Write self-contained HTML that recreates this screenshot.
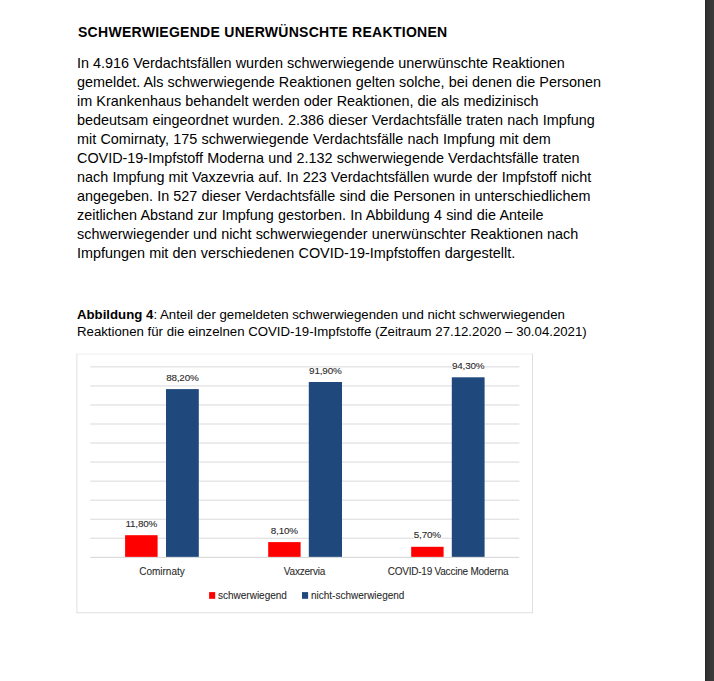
<!DOCTYPE html>
<html lang="de">
<head>
<meta charset="utf-8">
<title>Schwerwiegende unerwünschte Reaktionen</title>
<style>
html,body{margin:0;padding:0;background:#fff;}
body{width:714px;height:681px;position:relative;overflow:hidden;font-family:"Liberation Sans",sans-serif;color:#000;}
.abs{position:absolute;white-space:nowrap;}
.title{left:78px;top:24.55px;font-size:14px;line-height:15px;font-weight:bold;letter-spacing:0.28px;}
.p{left:77px;font-size:14.4px;line-height:19px;height:19px;}
.cap{left:77px;font-size:13.23px;line-height:17px;height:17px;}
.dl{position:absolute;font-size:9.9px;line-height:10px;letter-spacing:-0.16px;color:#2a2a2a;-webkit-text-stroke:0.1px #2a2a2a;white-space:nowrap;text-align:center;}
.cl{position:absolute;font-size:10px;line-height:12px;color:#2a2a2a;-webkit-text-stroke:0.08px #2a2a2a;white-space:nowrap;text-align:center;}
.side{position:absolute;left:705px;top:0;width:9px;height:681px;background:linear-gradient(to right,#262626 0,#262626 1px,#303030 1px,#3c3c3c 100%);}
svg{position:absolute;left:0;top:0;}
</style>
</head>
<body>
<div class="abs title">SCHWERWIEGENDE UNERWÜNSCHTE REAKTIONEN</div>

<div class="abs p" style="top:54px;word-spacing:0.1px">In 4.916 Verdachtsfällen wurden schwerwiegende unerwünschte Reaktionen</div>
<div class="abs p" style="top:73px;word-spacing:0.08px">gemeldet. Als schwerwiegende Reaktionen gelten solche, bei denen die Personen</div>
<div class="abs p" style="top:92px;word-spacing:0.1px">im Krankenhaus behandelt werden oder Reaktionen, die als medizinisch</div>
<div class="abs p" style="top:111px;word-spacing:0.21px">bedeutsam eingeordnet wurden. 2.386 dieser Verdachtsfälle traten nach Impfung</div>
<div class="abs p" style="top:130px;word-spacing:0.26px">mit Comirnaty, 175 schwerwiegende Verdachtsfälle nach Impfung mit dem</div>
<div class="abs p" style="top:149px;word-spacing:0.2px">COVID-19-Impfstoff Moderna und 2.132 schwerwiegende Verdachtsfälle traten</div>
<div class="abs p" style="top:168px;word-spacing:0.19px">nach Impfung mit Vaxzevria auf. In 223 Verdachtsfällen wurde der Impfstoff nicht</div>
<div class="abs p" style="top:187px;word-spacing:0.17px">angegeben. In 527 dieser Verdachtsfälle sind die Personen in unterschiedlichem</div>
<div class="abs p" style="top:206px;word-spacing:0.24px">zeitlichen Abstand zur Impfung gestorben. In Abbildung 4 sind die Anteile</div>
<div class="abs p" style="top:225px;word-spacing:0.08px">schwerwiegender und nicht schwerwiegender unerwünschter Reaktionen nach</div>
<div class="abs p" style="top:244px;word-spacing:0.18px">Impfungen mit den verschiedenen COVID-19-Impfstoffen dargestellt.</div>

<div class="abs cap" style="top:306px"><b>Abbildung 4</b>: Anteil der gemeldeten schwerwiegenden und nicht schwerwiegenden</div>
<div class="abs cap" style="top:323px">Reaktionen für die einzelnen COVID-19-Impfstoffe (Zeitraum 27.12.2020 – 30.04.2021)</div>

<svg width="714" height="681" viewBox="0 0 714 681">
<rect x="76.4" y="353.5" width="1" height="259.7" fill="#e0e0e0"/>
<rect x="532" y="353.5" width="1" height="259.7" fill="#dedede"/>
<rect x="76.4" y="353.5" width="456.6" height="1" fill="#f0f0f0"/>
<rect x="76.4" y="612.2" width="456.6" height="1" fill="#e0e0e0"/>
<rect x="90.3" y="366.38" width="429" height="1" fill="#d9d9d9"/>
<rect x="90.3" y="385.42" width="429" height="1" fill="#d9d9d9"/>
<rect x="90.3" y="404.46" width="429" height="1" fill="#d9d9d9"/>
<rect x="90.3" y="423.50" width="429" height="1" fill="#d9d9d9"/>
<rect x="90.3" y="442.54" width="429" height="1" fill="#d9d9d9"/>
<rect x="90.3" y="461.58" width="429" height="1" fill="#d9d9d9"/>
<rect x="90.3" y="480.62" width="429" height="1" fill="#d9d9d9"/>
<rect x="90.3" y="499.66" width="429" height="1" fill="#d9d9d9"/>
<rect x="90.3" y="518.70" width="429" height="1" fill="#d9d9d9"/>
<rect x="90.3" y="537.74" width="429" height="1" fill="#d9d9d9"/>
<rect x="90.3" y="556.85" width="429" height="1" fill="#d4d4d4"/>
<rect x="452" y="362" width="32.6" height="8" fill="#fff"/>
<rect x="413.8" y="531.4" width="27.4" height="8.2" fill="#fff"/>
<rect x="125.1" y="535.2" width="32.5" height="21.65" fill="#ff0000"/>
<rect x="166.0" y="389.1" width="32.8" height="167.75" fill="#1f497d"/>
<rect x="268.2" y="542.1" width="32.4" height="14.75" fill="#ff0000"/>
<rect x="308.8" y="382.0" width="33.2" height="174.85" fill="#1f497d"/>
<rect x="411.2" y="546.8" width="32.4" height="10.05" fill="#ff0000"/>
<rect x="451.8" y="377.3" width="32.8" height="179.55" fill="#1f497d"/>
<rect x="209.1" y="592.1" width="6.1" height="6.7" fill="#ff0000"/>
<rect x="302" y="592.1" width="6.1" height="6.7" fill="#1f497d"/>
</svg>
<div class="dl" style="left:120.1px;width:42.5px;top:518.50px">11,80%</div>
<div class="dl" style="left:161.0px;width:42.8px;top:372.50px">88,20%</div>
<div class="dl" style="left:263.2px;width:42.4px;top:525.50px">8,10%</div>
<div class="dl" style="left:303.8px;width:43.2px;top:365.50px">91,90%</div>
<div class="dl" style="left:406.2px;width:42.4px;top:529.50px">5,70%</div>
<div class="dl" style="left:446.8px;width:42.8px;top:360.50px">94,30%</div>

<div class="cl" style="left:112px;width:100px;top:566.4px">Comirnaty</div>
<div class="cl" style="left:254.5px;width:100px;top:566.4px;letter-spacing:-0.2px">Vaxzervia</div>
<div class="cl" style="left:368px;width:160px;top:566.4px;letter-spacing:-0.22px">COVID-19 Vaccine Moderna</div>
<div class="cl" style="left:218px;top:590px;text-align:left">schwerwiegend</div>
<div class="cl" style="left:311px;top:590px;text-align:left">nicht-schwerwiegend</div>

<div class="side"></div>
</body>
</html>
